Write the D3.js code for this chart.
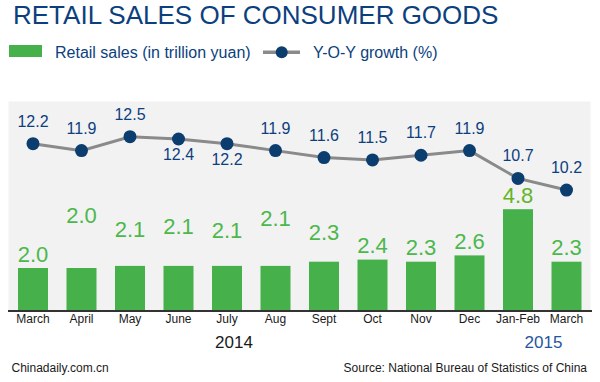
<!DOCTYPE html>
<html>
<head>
<meta charset="utf-8">
<script src="https://cdn.jsdelivr.net/npm/d3@7"></script>
<style>
  html, body { margin: 0; padding: 0; background: #ffffff; }
  svg { display: block; font-family: "Liberation Sans", Arial, Helvetica, sans-serif; }
</style>
</head>
<body>
<svg id="chart" width="600" height="382"></svg>
<script>
// ---- data ----
const categories = ["March", "April", "May", "June", "July", "Aug", "Sept", "Oct", "Nov", "Dec", "Jan-Feb", "March"];
const retailSales = [2.0, 2.0, 2.1, 2.1, 2.1, 2.1, 2.3, 2.4, 2.3, 2.6, 4.8, 2.3];
const yoyGrowth = [12.2, 11.9, 12.5, 12.4, 12.2, 11.9, 11.6, 11.5, 11.7, 11.9, 10.7, 10.2];
const yearLabels = ["2014", "2015"];
const titleText = "RETAIL SALES OF CONSUMER GOODS";
const legendLabels = ["Retail sales (in trillion yuan)", "Y-O-Y growth (%)"];
const footerLeft = "Chinadaily.com.cn";
const footerRight = "Source: National Bureau of Statistics of China";

// ---- layout (label placement as in the original) ----
const barLabelLift = [0, 39, 23, 26, 22, 34, 16, 1, 1, 0, 0, 1];
const growthLabelBelow = [false, false, false, true, true, false, false, false, false, false, false, false];

const svg = d3.select("#chart");
const colors = {
  title: "#0c3f7e", bar: "#46b14a", barLabel: "#4cb84c", barLabelHi: "#62b52a",
  dot: "#0b3d6f", line: "#8a8a8a", bg: "#f2f2f2", axis: "#333333", blue2015: "#1f56a0"
};

// background panel
svg.append("rect").attr("x", 8.5).attr("y", 101.5).attr("width", 582).attr("height", 209)
  .attr("fill", colors.bg);

// title
svg.append("text").attr("x", 13).attr("y", 23.5).attr("font-size", 26)
  .attr("fill", colors.title).text(titleText);

// legend
svg.append("rect").attr("x", 9).attr("y", 45).attr("width", 33).attr("height", 12).attr("fill", colors.bar);
svg.append("text").attr("x", 55).attr("y", 57.5).attr("font-size", 16).attr("fill", colors.title).text(legendLabels[0]);
svg.append("line").attr("x1", 263).attr("x2", 300).attr("y1", 52.3).attr("y2", 52.3)
  .attr("stroke", colors.line).attr("stroke-width", 3.5);
svg.append("circle").attr("cx", 281.7).attr("cy", 52.3).attr("r", 6).attr("fill", colors.dot);
svg.append("text").attr("x", 313).attr("y", 57.5).attr("font-size", 16).attr("fill", colors.title).text(legendLabels[1]);

// scales
const x = d3.scaleBand().domain(d3.range(categories.length)).range([8.75, 590.75])
  .paddingInner(0.381).paddingOuter(0.1905);
const yBar = d3.scaleLinear().domain([0, 10]).range([310, 100]);
const yLine = d3.scaleLinear().domain([10, 13]).range([194.7, 125.1]);
const cx = i => x(i) + x.bandwidth() / 2;

// bars
svg.append("g").selectAll("rect").data(retailSales).join("rect")
  .attr("x", (d, i) => x(i)).attr("y", d => yBar(d))
  .attr("width", x.bandwidth()).attr("height", d => yBar(0) - yBar(d))
  .attr("fill", colors.bar);

svg.append("g").selectAll("text").data(retailSales).join("text")
  .attr("x", (d, i) => cx(i)).attr("y", (d, i) => yBar(d) - 6 - barLabelLift[i])
  .attr("text-anchor", "middle").attr("font-size", 22)
  .attr("fill", (d, i) => d === d3.max(retailSales) ? colors.barLabelHi : colors.barLabel)
  .text(d => d.toFixed(1));

// axis
const axis = d3.axisBottom(x).tickSize(0).tickPadding(4).tickFormat(i => categories[i]);
const gAxis = svg.append("g").attr("transform", "translate(0,310)").call(axis);
gAxis.select(".domain").remove();
gAxis.selectAll("text").attr("font-size", 12).attr("fill", "#1a1a1a")
  .attr("font-family", "Liberation Sans, Arial, sans-serif");
svg.append("line").attr("x1", 8).attr("x2", 592).attr("y1", 311).attr("y2", 311)
  .attr("stroke", colors.axis).attr("stroke-width", 2);

// growth line
const line = d3.line().x((d, i) => cx(i)).y(d => yLine(d));
svg.append("path").datum(yoyGrowth).attr("d", line).attr("fill", "none")
  .attr("stroke", colors.line).attr("stroke-width", 3);
svg.append("g").selectAll("circle").data(yoyGrowth).join("circle")
  .attr("cx", (d, i) => cx(i)).attr("cy", d => yLine(d)).attr("r", 6.5).attr("fill", colors.dot);
svg.append("g").selectAll("text").data(yoyGrowth).join("text")
  .attr("x", (d, i) => cx(i))
  .attr("y", (d, i) => growthLabelBelow[i] ? yLine(d) + 21 : yLine(d) - 17)
  .attr("text-anchor", "middle").attr("font-size", 16).attr("fill", colors.title)
  .text(d => d.toFixed(1));

// years
svg.append("text").attr("x", 234).attr("y", 347.7).attr("text-anchor", "middle")
  .attr("font-size", 17).attr("fill", "#1a1a1a").text(yearLabels[0]);
svg.append("text").attr("x", 543.5).attr("y", 347.7).attr("text-anchor", "middle")
  .attr("font-size", 17).attr("fill", colors.blue2015).text(yearLabels[1]);

// footer
svg.append("text").attr("x", 11.5).attr("y", 371.7).attr("font-size", 12).attr("fill", "#1a1a1a").text(footerLeft);
svg.append("text").attr("x", 587).attr("y", 371.7).attr("text-anchor", "end")
  .attr("font-size", 12).attr("fill", "#1a1a1a").text(footerRight);
</script>
</body>
</html>
